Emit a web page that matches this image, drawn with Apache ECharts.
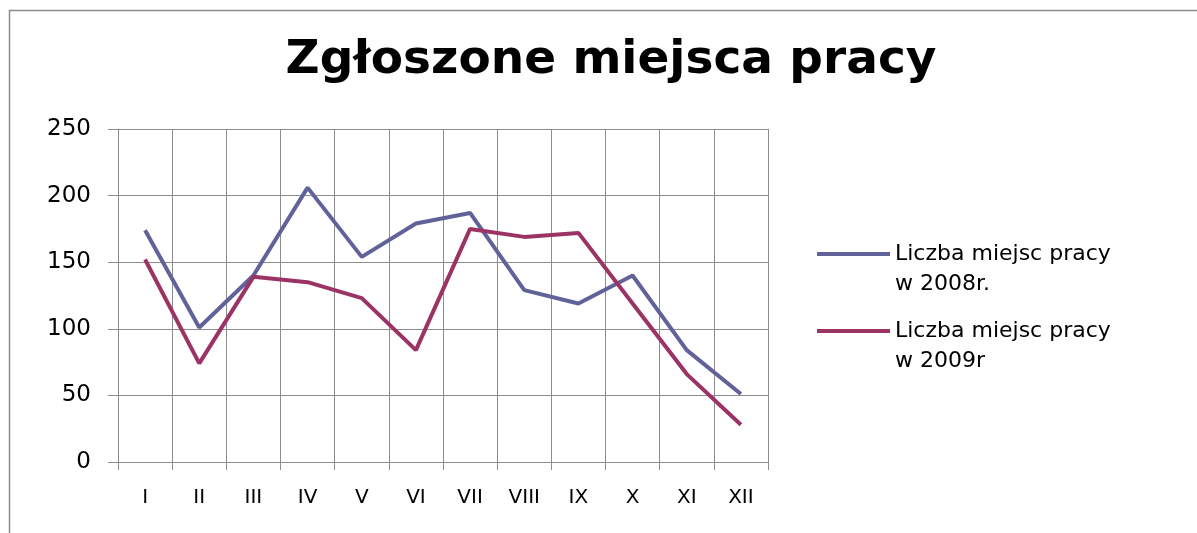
<!DOCTYPE html>
<html>
<head>
<meta charset="utf-8">
<script src="https://cdn.jsdelivr.net/npm/echarts@6/dist/echarts.min.js"></script>
<style>
  html, body { margin: 0; padding: 0; background: #fff; }
  #main { width: 1197px; height: 533px; }
</style>
</head>
<body>
<div id="main"></div>
<script>
var months = ['I', 'II', 'III', 'IV', 'V', 'VI', 'VII', 'VIII', 'IX', 'X', 'XI', 'XII'];
var jobs2008 = [174, 101, 140, 206, 154, 179, 187, 129, 119, 140, 84, 51];
var jobs2009 = [152, 74, 139, 135, 123, 84, 175, 169, 172, 119, 66, 28];
var yTicks = [0, 50, 100, 150, 200, 250];
var names = ['Liczba miejsc pracy\nw 2008r.', 'Liczba miejsc pracy\nw 2009r'];

var chartDom = document.getElementById('main');
var myChart = echarts.init(chartDom);
var font = 'DejaVu Sans';
var gridColor = '#8c8c8c';

// leading blank line puts the icon level with the first text line
function legendFor(name, top) {
    return {
        data: [name],
        left: 817,
        top: top,
        padding: 0,
        icon: 'rect',
        itemWidth: 73,
        itemHeight: 4,
        selectedMode: false,
        formatter: function (n) { return '\n' + n; },
        textStyle: {
            fontFamily: font,
            fontSize: 22,
            color: '#000',
            lineHeight: 30
        }
    };
}

var option = {
    backgroundColor: '#fff',
    animation: false,
    title: {
        text: 'Zgłoszone miejsca pracy',
        left: 606,
        textAlign: 'center',
        top: 32,
        textStyle: {
            fontFamily: font,
            fontWeight: 'bold',
            fontSize: 47,
            color: '#000'
        }
    },
    legend: [legendFor(names[0], 209), legendFor(names[1], 286)],
    grid: {
        left: 118,
        right: 429,
        top: 129,
        bottom: 71
    },
    xAxis: {
        type: 'category',
        data: months,
        boundaryGap: true,
        axisLine: { lineStyle: { color: gridColor, width: 1 } },
        axisTick: { show: true, length: 8, alignWithLabel: false, lineStyle: { color: gridColor } },
        splitLine: { show: true, lineStyle: { color: gridColor, width: 1 } },
        axisLabel: {
            fontFamily: font,
            fontSize: 20,
            color: '#000',
            margin: 26
        }
    },
    yAxis: {
        type: 'value',
        min: yTicks[0],
        max: yTicks[yTicks.length - 1],
        interval: 50,
        axisLine: { show: true, lineStyle: { color: gridColor, width: 1 } },
        axisTick: { show: true, length: 10, lineStyle: { color: gridColor } },
        splitLine: { show: true, lineStyle: { color: gridColor, width: 1 } },
        axisLabel: {
            fontFamily: font,
            fontSize: 23,
            color: '#000',
            margin: 27
        }
    },
    series: [
        {
            name: names[0],
            type: 'line',
            data: jobs2008,
            symbol: 'none',
            color: '#62629a',
            lineStyle: { width: 4, color: '#62629a' }
        },
        {
            name: names[1],
            type: 'line',
            data: jobs2009,
            symbol: 'none',
            color: '#9b3365',
            lineStyle: { width: 4, color: '#9b3365' }
        }
    ],
    graphic: [
        {
            type: 'polyline',
            shape: { points: [[1197, 10.5], [9.5, 10.5], [9.5, 533]] },
            style: { stroke: '#8c8c8c', lineWidth: 1.5, fill: null },
            silent: true
        }
    ]
};

option && myChart.setOption(option);
</script>
</body>
</html>
